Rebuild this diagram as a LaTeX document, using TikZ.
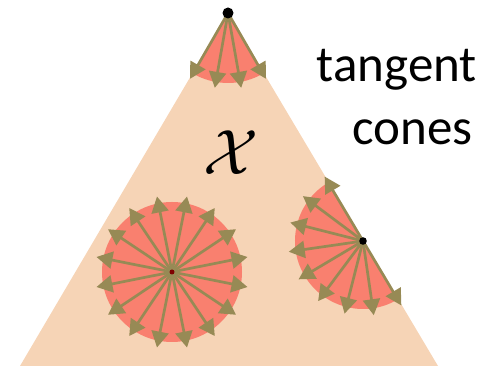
\documentclass[tikz,border=0pt]{standalone}
\usepackage{fontspec}
\setmainfont{Carlito}
\usetikzlibrary{arrows.meta, calc}
\definecolor{TCPeach}{RGB}{246, 212, 182}
\definecolor{TCSalmon}{RGB}{249, 128, 111}
\definecolor{TCOlive}{RGB}{151, 138, 85}
\definecolor{TCDarkRed}{RGB}{127, 0, 0}

\tikzset{
  conearrow/.style={TCOlive, line width=2.7pt, -{Triangle[length=16pt, width=17pt]}},
  conefill/.style={fill=TCSalmon},
}

\begin{document}
\begin{tikzpicture}[x=1pt,y=1pt]
  \path[use as bounding box] (0,0) rectangle (499,366);

  % the set
  \coordinate (apex) at (228,353);
  \coordinate (baseL) at (20,0);
  \coordinate (baseR) at (438,0);
  \fill[TCPeach] (apex) -- (baseL) -- (baseR) -- cycle;
  \node[scale=6.4] (setX) at (231,213) {$\mathcal{X}$};

  % cone at the apex
  \fill[conefill] (apex) -- ++(239.5:70) arc[start angle=239.5, end angle=300.75, radius=70] -- cycle;
  \foreach \a in {240,260,280,300}
    \draw[conearrow] (apex) -- ++(\a:76);
  \fill[black] (apex) circle (5.5);

  % interior point: full plane
  \coordinate (inner) at (172,94);
  \fill[conefill] (inner) circle (70);
  \foreach \k in {0,...,15}
    \draw[conearrow] (inner) -- ++(11.25+22.5*\k:77);
  \fill[TCDarkRed] (inner) circle (2.5);

  % boundary point: half plane
  \coordinate (edge) at (363,125);
  \fill[conefill] (edge) -- ++(120.75:68) arc[start angle=120.75, end angle=300.75, radius=68] -- cycle;
  \foreach \k in {0,...,8}
    \draw[conearrow] (edge) -- ++(120.75+22.5*\k:75);
  \fill[black] (edge) circle (3.8);

  % label
  \node[anchor=base east, inner sep=0pt] (tangent) at (477,284) {\fontsize{51}{60}\selectfont tangent};
  \node[anchor=base east, inner sep=0pt] (cones) at (473,221) {\fontsize{51}{60}\selectfont cones};
\end{tikzpicture}
\end{document}
